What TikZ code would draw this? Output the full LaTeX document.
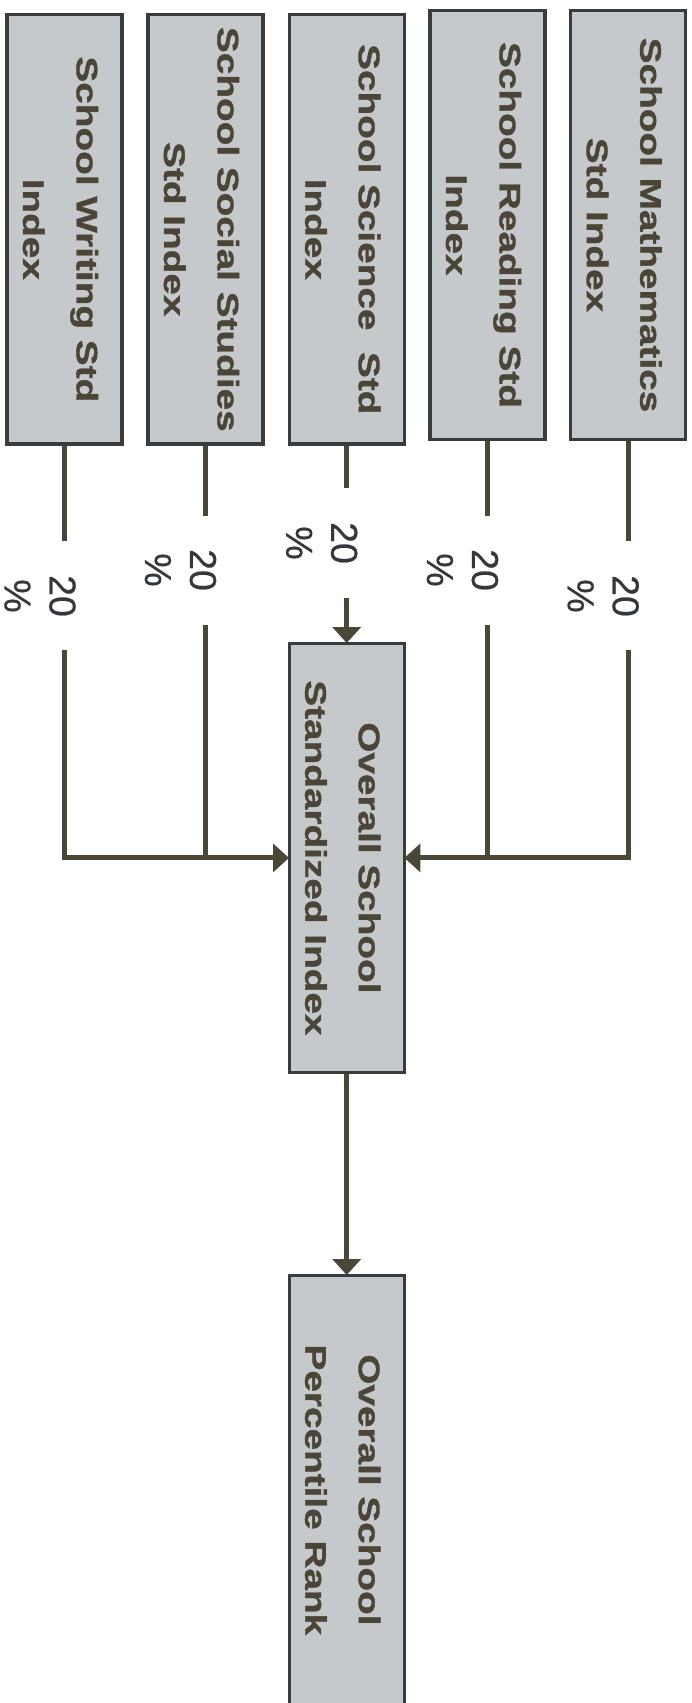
\documentclass[tikz,border=0pt]{standalone}
\usepackage{fontspec}
\setmainfont{Liberation Sans}
\newfontfamily\boxfont{Liberation Sans}[FakeStretch=1.3,FakeBold=1.2]
\newfontfamily\lblfont{Liberation Sans}[FakeBold=0.6]
\usetikzlibrary{arrows.meta}
\definecolor{linecol}{HTML}{4A4638}
\definecolor{boxfill}{HTML}{C6C9CC}
\definecolor{boxdraw}{HTML}{383C3F}
\definecolor{txtcol}{HTML}{4A4537}
\definecolor{lblcol}{HTML}{33383C}
\newcommand\boxtext[1]{\rotatebox{-90}{\boxfont\bfseries\fontsize{29.8}{53.5}\selectfont\begin{tabular}{@{}c@{}}#1\end{tabular}}\hspace*{8pt}}
\begin{document}
\begin{tikzpicture}[x=1pt,y=-1pt,
  idxbox/.style={rectangle, draw=boxdraw, line width=3.4pt, fill=boxfill,
    minimum width=111.2pt, minimum height=429.4pt, inner sep=0pt, text=txtcol},
  pct/.style={rotate=-90, align=center, text=lblcol, inner sep=0pt,
    font=\lblfont\fontsize{37.5}{45}\selectfont},
  conn/.style={draw=linecol, line width=5pt},
  arr/.style={conn, -{Triangle[length=16pt,width=28pt]}, shorten >=-1.5pt}]
\useasboundingbox (0,0) rectangle (692,1703);
% input boxes
\node[idxbox] (w)  at (64.5,229.3)  {\boxtext{School Writing Std\\Index}};
\node[idxbox] (s)  at (205.5,229.3) {\boxtext{School Social Studies\\Std Index}};
\node[idxbox] (sc) at (346.7,229.3) {\boxtext{School Science\ \ Std\\Index}};
\node[idxbox] (r)  at (487.5,225)   {\boxtext{School Reading Std\\Index}};
\node[idxbox] (m)  at (628.2,225)   {\boxtext{School Mathematics\\Std Index}};
% output boxes
\node[idxbox] (c) at (346.7,857.9)  {\boxtext{Overall School\\Standardized Index}};
\node[idxbox] (f) at (346.7,1489.9) {\boxtext{Overall School\\Percentile Rank}};
% percentage labels
\node[pct] (wl)  at (40,596)    {20\\\%};
\node[pct] (sl)  at (180.5,570) {20\\\%};
\node[pct] (scl) at (321.7,543) {20\\\%};
\node[pct] (rl)  at (462.5,570) {20\\\%};
\node[pct] (ml)  at (603.2,596) {20\\\%};
% gap ends
\coordinate (wa) at (64.5,540.7);  \coordinate (wb) at (64.5,650);
\coordinate (sa) at (205.5,515.7); \coordinate (sb) at (205.5,625);
\coordinate (sca) at (346.7,488);  \coordinate (scb) at (346.7,598);
\coordinate (ra) at (487.5,515.7); \coordinate (rb) at (487.5,625);
\coordinate (ma) at (628.2,540.7); \coordinate (mb) at (628.2,650);
% connectors
\draw[conn] (w.south) -- (wa);
\draw[conn] (s.south) -- (sa);
\draw[conn] (sc.south) -- (sca);
\draw[conn] (r.south) -- (ra);
\draw[conn] (m.south) -- (ma);
\draw[arr] (wb) |- (c.west);
\draw[arr] (mb) |- (c.east);
\draw[conn] (sb) -- (sb |- c.west);
\draw[conn] (rb) -- (rb |- c.east);
\draw[arr] (scb) -- (c.north);
\draw[arr] (c.south) -- (f.north);
\end{tikzpicture}
\end{document}
